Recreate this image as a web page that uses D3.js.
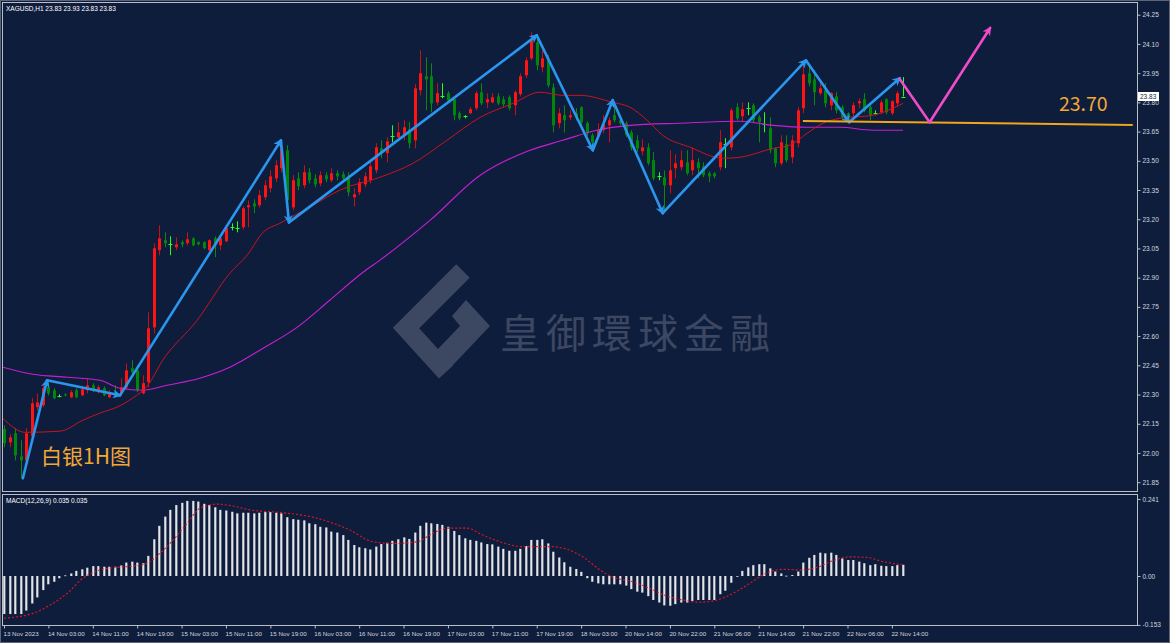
<!DOCTYPE html>
<html><head><meta charset="utf-8">
<script src="https://cdn.jsdelivr.net/npm/d3@7"></script>
<style>html,body{margin:0;padding:0;background:#0f1d3d;overflow:hidden}svg{display:block}</style>
</head><body>
<script>
// ---------- DATA ----------
const symbolTitle = "XAGUSD,H1  23.83 23.93 23.83 23.83";
const macdTitle = "MACD(12,26,9) 0.035 0.035";
const opens = [
22.122,22.055,22.101,21.983,21.962,22.086,22.235,22.245,22.337,22.322,
22.291,22.301,22.286,22.322,22.296,22.322,22.347,22.312,22.332,22.286,
22.312,22.306,22.337,22.435,22.424,22.306,22.363,22.645,23.041,23.092,
23.071,23.056,23.082,23.077,23.102,23.082,23.082,23.041,23.102,23.066,
23.087,23.162,23.154,23.159,23.261,23.282,23.272,23.313,23.359,23.410,
23.462,23.554,23.261,23.410,23.374,23.441,23.410,23.384,23.426,23.400,
23.436,23.431,23.420,23.313,23.338,23.379,23.400,23.451,23.564,23.539,
23.626,23.621,23.631,23.662,23.605,23.862,23.934,23.934,23.800,23.831,
23.847,23.816,23.744,23.729,23.744,23.770,23.852,23.800,23.800,23.831,
23.816,23.826,23.785,23.842,23.939,24.026,24.108,23.980,24.016,23.877,
23.693,23.734,23.723,23.744,23.775,23.693,23.631,23.631,23.657,23.682,
23.734,23.708,23.693,23.646,23.605,23.549,23.569,23.503,23.423,23.415,
23.374,23.462,23.467,23.492,23.451,23.492,23.472,23.436,23.436,23.467,
23.585,23.569,23.775,23.729,23.772,23.785,23.723,23.688,23.667,23.564,
23.487,23.585,23.518,23.590,23.770,23.949,23.918,23.847,23.862,23.785,
23.831,23.775,23.744,23.744,23.795,23.816,23.775,23.744,23.749,23.816,
23.744,23.795,23.83];
const closes = [
22.050,22.080,21.988,21.962,22.101,22.255,22.260,22.332,22.306,22.281,
22.291,22.296,22.312,22.286,22.327,22.347,22.322,22.337,22.296,22.312,
22.291,22.337,22.424,22.414,22.322,22.358,22.640,23.051,23.102,23.077,
23.071,23.071,23.071,23.097,23.066,23.071,23.051,23.092,23.066,23.102,
23.154,23.162,23.154,23.256,23.272,23.266,23.323,23.374,23.420,23.477,
23.564,23.297,23.400,23.369,23.441,23.400,23.379,23.426,23.405,23.436,
23.420,23.410,23.338,23.328,23.390,23.420,23.472,23.569,23.539,23.600,
23.626,23.646,23.672,23.590,23.872,23.949,23.918,23.795,23.847,23.831,
23.811,23.734,23.718,23.729,23.765,23.847,23.795,23.816,23.826,23.795,
23.790,23.770,23.852,23.934,24.016,24.119,23.990,24.026,23.888,23.682,
23.744,23.708,23.734,23.723,23.698,23.641,23.595,23.657,23.688,23.708,
23.708,23.693,23.631,23.569,23.564,23.569,23.487,23.410,23.423,23.374,
23.451,23.487,23.503,23.436,23.503,23.462,23.426,23.420,23.420,23.595,
23.585,23.759,23.718,23.765,23.772,23.708,23.698,23.688,23.554,23.487,
23.595,23.503,23.605,23.759,23.944,23.898,23.852,23.872,23.795,23.847,
23.759,23.723,23.723,23.785,23.806,23.759,23.734,23.744,23.800,23.749,
23.806,23.847,23.83];
const highs = [
22.142,22.096,22.127,22.065,22.127,22.281,22.306,22.347,22.373,22.332,
22.301,22.306,22.322,22.332,22.342,22.383,22.358,22.347,22.342,22.322,
22.347,22.383,22.460,22.476,22.450,22.399,22.722,23.077,23.169,23.133,
23.112,23.107,23.092,23.133,23.107,23.087,23.087,23.097,23.112,23.112,
23.164,23.179,23.189,23.266,23.297,23.302,23.349,23.400,23.451,23.503,
23.605,23.580,23.426,23.441,23.477,23.462,23.431,23.446,23.441,23.462,
23.451,23.446,23.441,23.359,23.410,23.441,23.503,23.590,23.605,23.621,
23.682,23.698,23.708,23.698,23.893,24.067,24.031,24.001,23.898,23.898,
23.857,23.826,23.754,23.734,23.775,23.857,23.898,23.847,23.847,23.847,
23.831,23.836,23.862,23.949,24.031,24.160,24.144,24.067,24.042,23.898,
23.770,23.785,23.759,23.770,23.780,23.703,23.641,23.693,23.734,23.723,
23.800,23.734,23.703,23.657,23.631,23.610,23.590,23.544,23.441,23.451,
23.554,23.533,23.554,23.554,23.569,23.513,23.492,23.446,23.441,23.657,
23.616,23.770,23.795,23.800,23.800,23.795,23.734,23.749,23.723,23.569,
23.631,23.631,23.631,23.775,24.016,23.990,23.965,23.898,23.898,23.852,
23.852,23.785,23.749,23.800,23.821,23.847,23.785,23.759,23.811,23.821,
23.811,23.857,23.93];
const lows = [
22.029,22.029,21.962,21.870,21.937,22.075,22.219,22.235,22.296,22.276,
22.286,22.291,22.281,22.281,22.291,22.306,22.312,22.306,22.291,22.281,
22.286,22.296,22.327,22.404,22.312,22.301,22.337,22.614,23.015,23.056,
23.015,23.041,23.056,23.066,23.061,23.066,23.046,23.035,23.005,23.041,
23.082,23.143,23.133,23.148,23.159,23.231,23.261,23.297,23.338,23.390,
23.441,23.220,23.246,23.349,23.359,23.384,23.364,23.369,23.390,23.390,
23.400,23.395,23.318,23.266,23.323,23.364,23.384,23.436,23.513,23.492,
23.595,23.605,23.605,23.564,23.564,23.836,23.759,23.749,23.785,23.821,
23.800,23.708,23.708,23.718,23.739,23.759,23.785,23.770,23.795,23.785,
23.775,23.759,23.734,23.831,23.924,24.016,23.965,23.954,23.877,23.646,
23.667,23.646,23.708,23.708,23.682,23.626,23.564,23.621,23.641,23.595,
23.698,23.682,23.621,23.554,23.544,23.528,23.477,23.400,23.400,23.231,
23.333,23.410,23.451,23.426,23.426,23.410,23.415,23.390,23.410,23.451,
23.462,23.554,23.708,23.698,23.734,23.693,23.595,23.646,23.539,23.467,
23.477,23.492,23.487,23.569,23.744,23.882,23.785,23.836,23.775,23.759,
23.744,23.708,23.708,23.708,23.770,23.749,23.708,23.734,23.739,23.739,
23.734,23.780,23.83];
const macdHist = [
-0.119,-0.119,-0.119,-0.119,-0.108,-0.086,-0.067,-0.044,-0.026,-0.018,
-0.007,0.002,0.008,0.016,0.021,0.026,0.031,0.031,0.029,0.029,
0.029,0.033,0.042,0.045,0.042,0.040,0.063,0.115,0.157,0.186,
0.207,0.222,0.229,0.235,0.235,0.233,0.226,0.222,0.215,0.207,
0.205,0.201,0.196,0.198,0.198,0.196,0.198,0.200,0.200,0.198,
0.196,0.184,0.178,0.176,0.174,0.165,0.162,0.154,0.152,0.139,
0.136,0.128,0.113,0.097,0.090,0.087,0.083,0.092,0.100,0.104,
0.110,0.115,0.121,0.116,0.136,0.157,0.167,0.165,0.163,0.160,
0.154,0.141,0.128,0.118,0.113,0.110,0.105,0.100,0.099,0.092,
0.085,0.079,0.079,0.085,0.094,0.113,0.113,0.115,0.102,0.076,
0.058,0.043,0.029,0.022,0.013,-0.007,-0.018,-0.023,-0.026,-0.026,
-0.026,-0.026,-0.030,-0.041,-0.049,-0.052,-0.063,-0.075,-0.083,-0.092,
-0.093,-0.088,-0.083,-0.083,-0.078,-0.075,-0.075,-0.075,-0.075,-0.057,
-0.046,-0.021,-0.002,0.016,0.027,0.034,0.037,0.037,0.024,0.014,
0.008,0.001,0.003,0.014,0.042,0.057,0.066,0.073,0.071,0.073,
0.066,0.055,0.050,0.050,0.045,0.040,0.034,0.037,0.032,0.031,
0.031,0.034,0.035];
const signalIdx = [0,5.2,8.3,11.4,14.2,17.3,20.4,23.2,25.8,28.1,
30.5,33,35.3,38.4,41.3,44.3,50.3,56.4,62.3,66.5,
70.1,74.4,77.3,79.8,83.4,86.3,89.4,93.5,98.4,101.4,
104.3,107.4,109.2,113.3,116.4,119.5,122.3,125.4,128.5,131.4,
134.4,137.5,140.4,143.4,146.5,149.4,152.4,155.5,158.4,162];
const signalVals = [-0.132,-0.117,-0.091,-0.054,-0.007,0.019,0.027,0.031,0.040,0.071,
0.113,0.165,0.212,0.225,0.219,0.207,0.198,0.181,0.144,0.107,
0.102,0.107,0.134,0.150,0.150,0.128,0.107,0.092,0.092,0.084,
0.060,0.019,0.000,-0.018,-0.039,-0.063,-0.075,-0.082,-0.075,-0.054,
-0.023,0.010,0.021,0.019,0.027,0.048,0.060,0.058,0.045,0.035];
const maFastIdx = [-0.2,3.8,10.1,14.2,17.3,20.4,23.2,25.8,28.6,34.8,40.7,43.8,46.7,49.7,55.7,60.5,67.7,73.7,79.8,85.8,91.7,96.6,100.7,103.8,109.7,112.8,115.9,118.7,123.6,129.5,132.6,138.6,141.6,144.7,147.6,150.6,156.6,160.2,162];
const maFastVals = [22.178,22.106,22.112,22.168,22.205,22.236,22.282,22.343,22.476,22.681,22.923,23.015,23.133,23.179,23.272,23.349,23.415,23.487,23.605,23.723,23.795,23.852,23.836,23.836,23.800,23.775,23.708,23.631,23.570,23.513,23.518,23.564,23.580,23.641,23.693,23.718,23.734,23.770,23.795];
const maSlowIdx = [-0.2,5.2,11.4,17.3,20.9,25.0,29.4,35.3,40.7,46.7,52.8,58.7,64.7,67.7,76.8,85.8,94.8,100.7,106.8,112.8,121.8,132.6,138.6,144.7,150.6,156.6,162];
const maSlowVals = [22.440,22.404,22.389,22.373,22.332,22.322,22.348,22.384,22.440,22.538,22.645,22.784,22.928,22.989,23.195,23.426,23.554,23.605,23.657,23.682,23.693,23.703,23.682,23.672,23.672,23.657,23.657];
const zigIdx = [3.4,7.75,20.9,49.9,51.35,96.0,106.1,109.7,118.7,144.5,152.3,161.4];
const zigVals = [21.87,22.373,22.296,23.605,23.184,24.144,23.554,23.811,23.231,24.016,23.698,23.924];
const projIdx = [161.4,166.8,177.7];
const projVals = [23.92,23.698,24.182];
const levelIdx = [143.96,203.4];
const levelVals = [23.704,23.684];
const levelLabel = "23.70";
const chartLabel = "白银1H图";
const watermarkText = "皇御環球金融";
const priceTicks = [24.25,24.10,23.95,23.80,23.65,23.50,23.35,23.20,23.05,22.90,22.75,22.60,22.45,22.30,22.15,22.00,21.85];
const lastPrice = 23.83;
const macdTicks = [0.241,0,-0.153];
const macdTickLabels = ["0.241","0.00","-0.153"];
const timeTickIdx = [0,8,16,24,32,40,48,56,64,72,80,88,96,104,112,120,128,136,144,152,160];
const timeLabels = ["13 Nov 2023","14 Nov 03:00","14 Nov 11:00","14 Nov 19:00","15 Nov 03:00","15 Nov 11:00","15 Nov 19:00","16 Nov 03:00","16 Nov 11:00","16 Nov 19:00","17 Nov 03:00","17 Nov 11:00","17 Nov 19:00","18 Nov 03:00","20 Nov 14:00","20 Nov 22:00","21 Nov 06:00","21 Nov 14:00","21 Nov 22:00","22 Nov 06:00","22 Nov 14:00"];

// ---------- DRAWING ----------
const W = 1170, H = 643;
const BG = "#0f1d3d", FRAME = "#b9bec8", TXT = "#d2d6de";
const svg = d3.select("body").append("svg").attr("width", W).attr("height", H);
const defs = svg.append("defs");
defs.append("clipPath").attr("id","cm").append("rect").attr("x",3).attr("y",3).attr("width",1134).attr("height",488);
defs.append("clipPath").attr("id","cd").append("rect").attr("x",3).attr("y",495).attr("width",1134).attr("height",130);
function marker(id, color, size){
  defs.append("marker").attr("id",id).attr("viewBox","0 0 10 10").attr("refX",8).attr("refY",5)
    .attr("markerWidth",size).attr("markerHeight",size).attr("orient","auto")
    .append("path").attr("d","M0,0 L10,5 L0,10 L3,5 z").attr("fill",color);
}
marker("ab","#2a96ee",3.4);
marker("ap","#f04cc8",3.4);
const grad = defs.append("linearGradient").attr("id","hg").attr("x1","0").attr("x2","1").attr("y1","0").attr("y2","0");
grad.append("stop").attr("offset","0").attr("stop-color","#8d93a3");
grad.append("stop").attr("offset","0.5").attr("stop-color","#f2f3f5");
grad.append("stop").attr("offset","1").attr("stop-color","#8d93a3");

svg.append("rect").attr("width",W).attr("height",H).attr("fill",BG);

const xs = d3.scaleLinear().domain([0,162]).range([4,903]);
const ys = d3.scaleLinear().domain([21.85,24.25]).range([482.2,14.7]);
const ym = d3.scaleLinear().domain([-0.153,0.241]).range([624.9,499]);

// watermark
const wm = svg.append("g").attr("opacity",0.5);
wm.append("path").attr("d","M463,271 L406,328 L446,372").attr("fill","none")
  .attr("stroke","#6a7186").attr("stroke-width",19).attr("stroke-linejoin","miter");
wm.append("path").attr("d","M466,300 L490,326 L452,366 L437,350 L460,326 L452,316 Z").attr("fill","#6a7186");
wm.append("text").attr("x",500).attr("y",348).attr("font-family","'Noto Sans CJK TC','Noto Sans CJK SC',sans-serif")
  .attr("font-size",40).attr("letter-spacing",6).attr("fill","#6a7186").text(watermarkText);

// main panel content
const gm = svg.append("g").attr("clip-path","url(#cm)");
const candles = opens.map((o,i)=>({i,o,c:closes[i],h:highs[i],l:lows[i]}));
const UP="#ff1414", UPW="#cc1010", DN="#00870a", DNW="#0a8a0a", DOJI="#22ff22";
function col(d){ return d.c>d.o?UP:(d.c<d.o?DN:DOJI); }
function wcol(d){ return d.c>d.o?UPW:(d.c<d.o?DNW:DOJI); }
const cx = d => Math.round(xs(d.i));
gm.append("g").selectAll("line").data(candles).join("line")
  .attr("x1",d=>cx(d)+0.5).attr("x2",d=>cx(d)+0.5)
  .attr("y1",d=>ys(d.h)).attr("y2",d=>ys(d.l))
  .attr("stroke",wcol).attr("stroke-width",1);
gm.append("g").selectAll("rect").data(candles.filter(d=>d.c!==d.o)).join("rect")
  .attr("x",d=>cx(d)-1).attr("width",3)
  .attr("y",d=>ys(Math.max(d.o,d.c)))
  .attr("height",d=>Math.max(1,ys(Math.min(d.o,d.c))-ys(Math.max(d.o,d.c))))
  .attr("fill",col);
gm.append("g").selectAll("line").data(candles.filter(d=>d.c===d.o)).join("line")
  .attr("x1",d=>cx(d)-1.5).attr("x2",d=>cx(d)+2.5)
  .attr("y1",d=>Math.round(ys(d.o))+0.5).attr("y2",d=>Math.round(ys(d.o))+0.5)
  .attr("stroke",DOJI).attr("stroke-width",1);

const lineP = d3.line().x(d=>xs(d[0])).y(d=>ys(d[1])).curve(d3.curveMonotoneX);
gm.append("path").attr("d",lineP(d3.zip(maSlowIdx,maSlowVals))).attr("fill","none").attr("stroke","#c81ed2").attr("stroke-width",1.1);
gm.append("path").attr("d",lineP(d3.zip(maFastIdx,maFastVals))).attr("fill","none").attr("stroke","#c8141c").attr("stroke-width",1);

// zigzag arrows
const straight = d3.line().x(d=>xs(d[0])).y(d=>ys(d[1]));
const zig = d3.zip(zigIdx,zigVals);
for(let k=0;k<zig.length-1;k++){
  gm.append("path").attr("d",straight([zig[k],zig[k+1]])).attr("fill","none")
    .attr("stroke","#2a96ee").attr("stroke-width",2.6).attr("stroke-linecap","round").attr("marker-end","url(#ab)");
}
// level line
gm.append("path").attr("d",straight(d3.zip(levelIdx,levelVals))).attr("stroke","#f2a51c").attr("stroke-width",2);
// projection
const proj = d3.zip(projIdx,projVals);
gm.append("path").attr("d",straight([proj[0],proj[1]])).attr("fill","none").attr("stroke","#f04cc8").attr("stroke-width",2.6).attr("stroke-linecap","round");
gm.append("path").attr("d",straight([proj[1],proj[2]])).attr("fill","none").attr("stroke","#f04cc8").attr("stroke-width",2.6).attr("stroke-linecap","round").attr("marker-end","url(#ap)");

// labels
svg.append("text").attr("x",xs(190.1)).attr("y",ys(23.757)).attr("font-family","'Noto Sans CJK SC','Noto Sans',sans-serif")
  .attr("font-size",19.5).attr("fill","#f2a832").text(levelLabel);
svg.append("text").attr("x",41).attr("y",464).attr("font-family","'Noto Sans CJK SC',sans-serif")
  .attr("font-size",21).attr("fill","#f2a832").text(chartLabel);
svg.append("text").attr("x",6).attr("y",10.5).attr("font-family","'Liberation Sans',Arial,sans-serif")
  .attr("font-size",6.5).attr("fill","#ffffff").text(symbolTitle);

// MACD panel
const gd = svg.append("g").attr("clip-path","url(#cd)");
gd.append("g").selectAll("rect").data(macdHist.map((v,i)=>({i,v}))).join("rect")
  .attr("x",d=>Math.round(xs(d.i))-1).attr("width",2.6)
  .attr("y",d=>ym(Math.max(0,d.v))).attr("height",d=>Math.max(0.8,Math.abs(ym(d.v)-ym(0))))
  .attr("fill","url(#hg)");
const lineM = d3.line().x(d=>xs(d[0])).y(d=>ym(d[1])).curve(d3.curveMonotoneX);
gd.append("path").attr("d",lineM(d3.zip(signalIdx,signalVals))).attr("fill","none")
  .attr("stroke","#e8141e").attr("stroke-width",1.1).attr("stroke-dasharray","2,2");
svg.append("text").attr("x",6).attr("y",503).attr("font-family","'Liberation Sans',Arial,sans-serif")
  .attr("font-size",6.5).attr("fill","#ffffff").text(macdTitle);

// frames
svg.append("rect").attr("x",0.5).attr("y",0.5).attr("width",W-1).attr("height",H-1).attr("fill","none").attr("stroke","#5c6478");
svg.append("rect").attr("x",2.5).attr("y",2.5).attr("width",1135).attr("height",489).attr("fill","none").attr("stroke",FRAME);
svg.append("rect").attr("x",2.5).attr("y",494.5).attr("width",1135).attr("height",131).attr("fill","none").attr("stroke",FRAME);

// axes
const fontAx = "'Liberation Sans',Arial,sans-serif";
const ay = svg.append("g").attr("transform","translate(1137.5,0)")
  .call(d3.axisRight(ys).tickValues(priceTicks).tickSize(3).tickPadding(2).tickFormat(d3.format(".2f")));
ay.select(".domain").remove();
ay.selectAll("line").attr("stroke",FRAME);
ay.selectAll("text").attr("fill",TXT).attr("font-family",fontAx).attr("font-size",6.5);

const am = svg.append("g").attr("transform","translate(1137.5,0)")
  .call(d3.axisRight(ym).tickValues(macdTicks).tickSize(3).tickPadding(2).tickFormat((d,i)=>macdTickLabels[i]));
am.select(".domain").remove();
am.selectAll("line").attr("stroke",FRAME);
am.selectAll("text").attr("fill",TXT).attr("font-family",fontAx).attr("font-size",6.5);

const ax = svg.append("g").attr("transform","translate(0,625.5)")
  .call(d3.axisBottom(xs).tickValues(timeTickIdx).tickSize(3).tickFormat((d,i)=>timeLabels[i]));
ax.select(".domain").remove();
ax.selectAll("line").attr("stroke",FRAME);
ax.selectAll("text").attr("fill",TXT).attr("font-family",fontAx).attr("font-size",6.2)
  .attr("text-anchor","start").attr("x",-1).attr("y",6.5);

// current price box
const lp = ys(lastPrice);
svg.append("rect").attr("x",1138).attr("y",lp-4.5).attr("width",21).attr("height",9).attr("fill","#ffffff");
svg.append("text").attr("x",1140).attr("y",lp).attr("dy","0.34em").attr("font-family",fontAx)
  .attr("font-size",6.5).attr("fill",BG).text(lastPrice.toFixed(2));
</script>
</body></html>
